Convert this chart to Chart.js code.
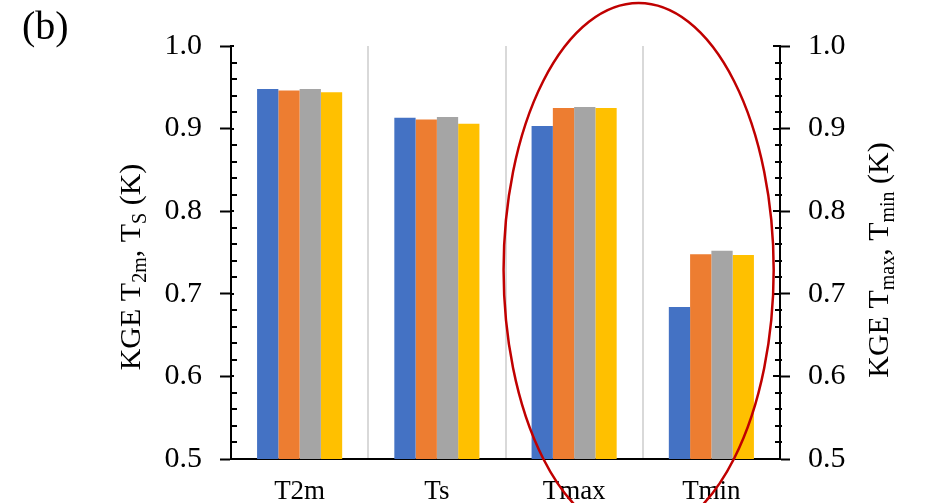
<!DOCTYPE html>
<html>
<head>
<meta charset="utf-8">
<script src="https://cdn.jsdelivr.net/npm/chart.js@4/dist/chart.umd.min.js"></script>
<style>
  html, body { margin: 0; padding: 0; background: #fff; }
  #wrap { width: 928px; height: 503px; position: relative; }
</style>
</head>
<body>
<div id="wrap"><canvas id="c" width="928" height="503"></canvas></div>
<script>
// KGE scores per variable for the four model runs
const categories = ['T2m', 'Ts', 'Tmax', 'Tmin'];
const run1 = [0.948, 0.913, 0.903, 0.684];
const run2 = [0.946, 0.911, 0.925, 0.748];
const run3 = [0.948, 0.914, 0.926, 0.752];
const run4 = [0.944, 0.906, 0.925, 0.747];
const yTickValues = [0.5, 0.6, 0.7, 0.8, 0.9, 1.0];
const yMin = 0.5, yMax = 1.0;

const FONT = "'Liberation Serif', 'Times New Roman', serif";
const colors = ['#4472C4', '#ED7D31', '#A5A5A5', '#FFC000'];

// Highlight ring around the Tmax / Tmin groups (category index / value units)
const ring = { x: 2.47, y: 0.729, rxCat: 0.984, ryVal: 0.323 };

function setTicks(scale) {
  scale.ticks = yTickValues.map(v => ({ value: v }));
}

// Minor tick marks every 0.02 and inner halves of the major ticks
const axisTicks = {
  id: 'axisTicks',
  afterDraw(chart) {
    const ctx = chart.ctx;
    const y = chart.scales.y;
    const left = chart.chartArea.left, right = chart.chartArea.right;
    ctx.save();
    ctx.strokeStyle = '#000';
    ctx.lineWidth = 2;
    for (let i = 25; i <= 50; i++) {
      const py = Math.round(y.getPixelForValue(i * 0.02));
      ctx.beginPath();
      if (i % 5 === 0) {
        ctx.moveTo(left, py); ctx.lineTo(left + 3, py);
        ctx.moveTo(right, py); ctx.lineTo(right - 7, py);
      } else {
        ctx.moveTo(left, py); ctx.lineTo(left + 6, py);
        ctx.moveTo(right + 2, py); ctx.lineTo(right - 5, py);
      }
      ctx.stroke();
    }
    ctx.restore();
  }
};

// Rotated axis titles with subscripts, panel tag and highlight ring
function drawRich(ctx, parts, bx, cy, size) {
  const subSize = Math.round(size * 0.65);
  let total = 0;
  const widths = parts.map(p => {
    ctx.font = (p.sub ? subSize : size) + 'px ' + FONT;
    const w = ctx.measureText(p.t).width;
    total += w;
    return w;
  });
  ctx.save();
  ctx.translate(bx, cy);
  ctx.rotate(-Math.PI / 2);
  ctx.fillStyle = '#000';
  ctx.textBaseline = 'alphabetic';
  ctx.textAlign = 'left';
  let x = -total / 2;
  parts.forEach((p, i) => {
    ctx.font = (p.sub ? subSize : size) + 'px ' + FONT;
    ctx.fillText(p.t, x, p.sub ? size * 0.2 : 0);
    x += widths[i];
  });
  ctx.restore();
}

const overlay = {
  id: 'overlay',
  afterDraw(chart) {
    const ctx = chart.ctx;
    const xs = chart.scales.x, ys = chart.scales.y;

    drawRich(ctx, [
      { t: 'KGE T' }, { t: '2m', sub: true }, { t: ', T' }, { t: 'S', sub: true }, { t: ' (K)' }
    ], 140, 267, 30);
    drawRich(ctx, [
      { t: 'KGE T' }, { t: 'max', sub: true }, { t: ', T' }, { t: 'min', sub: true }, { t: ' (K)' }
    ], 888, 260, 30);

    ctx.save();
    ctx.fillStyle = '#000';
    ctx.font = '40px ' + FONT;
    ctx.textBaseline = 'alphabetic';
    ctx.fillText('(b)', 22, 39);
    ctx.restore();

    const cw = xs.getPixelForValue(1) - xs.getPixelForValue(0);
    const cx = xs.getPixelForValue(ring.x);
    const cy = ys.getPixelForValue(ring.y);
    const ry = ys.getPixelForValue(yMin) - ys.getPixelForValue(yMin + ring.ryVal);
    ctx.save();
    ctx.strokeStyle = '#C00000';
    ctx.lineWidth = 2.5;
    ctx.beginPath();
    ctx.ellipse(cx, cy, ring.rxCat * cw, ry, 0, 0, Math.PI * 2);
    ctx.stroke();
    ctx.restore();
  }
};

const datasets = [run1, run2, run3, run4].map((d, i) => ({
  label: 'Run ' + (i + 1),
  data: d,
  backgroundColor: colors[i],
  borderWidth: 0,
  categoryPercentage: 0.62,
  barPercentage: 1.0,
  yAxisID: 'y'
}));

new Chart(document.getElementById('c'), {
  type: 'bar',
  data: { labels: categories, datasets },
  options: {
    responsive: false,
    animation: false,
    devicePixelRatio: 1,
    layout: { padding: { top: 46, left: 0, right: 0, bottom: 0 } },
    plugins: { legend: { display: false }, tooltip: { enabled: false } },
    scales: {
      x: {
        offset: true,
        grid: {
          offset: true,
          drawOnChartArea: true,
          drawTicks: false,
          lineWidth: 2,
          color: c => (c.index === 0 || c.index === categories.length) ? 'rgba(0,0,0,0)' : '#d9d9d9'
        },
        border: { display: true, color: '#000', width: 2 },
        ticks: { color: '#000', font: { family: FONT, size: 27 }, padding: 17, maxRotation: 0 },
        afterFit: s => { s.height = 44; }
      },
      y: {
        position: 'left',
        min: yMin, max: yMax,
        afterBuildTicks: setTicks,
        grid: { drawOnChartArea: false, drawTicks: true, tickLength: 11, tickWidth: 2, tickColor: '#000' },
        border: { display: true, color: '#000', width: 2 },
        ticks: { color: '#000', font: { family: FONT, size: 30 }, padding: 18, callback: v => Number(v).toFixed(1) },
        afterFit: s => { s.width = 231; }
      },
      y2: {
        position: 'right',
        display: true,
        min: yMin, max: yMax,
        afterBuildTicks: setTicks,
        grid: { drawOnChartArea: false, drawTicks: true, tickLength: 10, tickWidth: 2, tickColor: '#000' },
        border: { display: true, color: '#000', width: 2 },
        ticks: { color: '#000', font: { family: FONT, size: 30 }, padding: 18, callback: v => Number(v).toFixed(1) },
        afterFit: s => { s.width = 148; }
      }
    }
  },
  plugins: [axisTicks, overlay]
});
</script>
</body>
</html>
